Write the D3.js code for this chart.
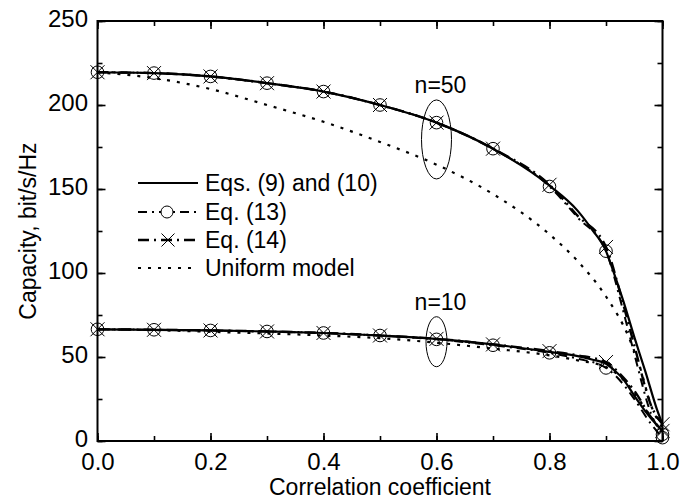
<!DOCTYPE html>
<html><head><meta charset="utf-8">
<script src="https://cdn.jsdelivr.net/npm/d3@7"></script>
<style>
html,body{margin:0;padding:0;background:#fff;}
svg text{font-family:"Liberation Sans",Arial,Helvetica,sans-serif;fill:#000;}
</style></head>
<body><svg id="c" width="681" height="504"></svg>
<script>
// ---------- data ----------
const xTicksMajor = [0, 0.2, 0.4, 0.6, 0.8, 1.0];
const yTicksMajor = [0, 50, 100, 150, 200, 250];

// Eqs. (9) and (10)  (solid)
const rhoSolid = [0,0.1,0.2,0.3,0.4,0.5,0.6,0.7,0.8,0.85,0.875,0.9,0.915,0.93,0.95,0.97,0.99,1.0];
const solid50  = [219.5,219,217,213,208,200,189.5,174,152,137,126,113,99,84,62,41,19,10];
const solid10  = [66.5,66.2,65.8,65.2,64.3,62.8,60.8,57.5,53,50.5,48.5,46,42,37,27,17.5,9.5,6];

// Uniform model (dotted)
const rhoUni = [0,0.1,0.2,0.3,0.4,0.5,0.6,0.7,0.8,0.85,0.9,0.94,0.96,0.98,1.0];
const uni50  = [219.5,216,209.5,200,190,178,164.5,147,123,107,86,62,44,21,8];
const uni10  = [66.5,66,65,64,62.8,61.2,58.5,55,51,48,44,33,24,14,6];

// Eq. (13) (circles) and Eq. (14) (crosses)
const rhoDash = [0,0.1,0.2,0.3,0.4,0.5,0.6,0.7,0.8,0.85,0.9,0.93,0.95,0.98,1.0];
const eq13_50 = [219.5,219,217,213,208,200,189.5,174,151.5,133,113,78,52,16,4];
const eq14_50 = [219.5,219,217,213,208,200,189.5,174,152.5,134,115.5,82,57,21,10];
const eq13_10 = [66.5,66.2,65.8,65.2,64.3,62.8,60.5,57,52.5,49,43.5,34,25,10,2];
const eq14_10 = [66.5,66.2,65.8,65.2,64.3,62.8,60.8,57.5,53.5,51,47,38,30,14,6];

const legendLabels = ["Eqs. (9) and (10)", "Eq. (13)", "Eq. (14)", "Uniform model"];
const groupLabels = ["n=50", "n=10"];

// ---------- chart ----------
const svg = d3.select("#c");
const L = 97.5, R = 662.5, T = 21, B = 441;
const x = d3.scaleLinear().domain([0, 1]).range([L, R]);
const y = d3.scaleLinear().domain([0, 250]).range([B, T]);
const FS = 23, TFS = 24;

const g = svg.append("g");

function styleAxis(sel, noText) {
  sel.select(".domain").remove();
  sel.selectAll("line").attr("stroke", "#000").attr("stroke-width", 1.6);
  sel.selectAll("text").style("font-size", TFS + "px").attr("fill", "#000");
  if (noText) sel.selectAll("text").remove();
}
const minorX = d3.range(0, 1.0001, 0.1);
const minorY = d3.range(0, 250.01, 25);
// bottom
g.append("g").attr("transform", `translate(0,${B})`)
  .call(d3.axisBottom(x).tickValues(minorX).tickSize(-5).tickFormat("")).call(s => styleAxis(s, true));
g.append("g").attr("transform", `translate(0,${B})`)
  .call(d3.axisBottom(x).tickValues(xTicksMajor).tickSizeInner(-8).tickSizeOuter(0).tickPadding(12).tickFormat(d3.format(".1f")))
  .call(s => styleAxis(s, false));
// top
g.append("g").attr("transform", `translate(0,${T})`)
  .call(d3.axisTop(x).tickValues(minorX).tickSize(-5).tickFormat("")).call(s => styleAxis(s, true));
g.append("g").attr("transform", `translate(0,${T})`)
  .call(d3.axisTop(x).tickValues(xTicksMajor).tickSize(-8).tickFormat("")).call(s => styleAxis(s, true));
// left
g.append("g").attr("transform", `translate(${L},0)`)
  .call(d3.axisLeft(y).tickValues(minorY).tickSize(-5).tickFormat("")).call(s => styleAxis(s, true));
g.append("g").attr("transform", `translate(${L},0)`)
  .call(d3.axisLeft(y).tickValues(yTicksMajor).tickSizeInner(-8).tickSizeOuter(0).tickPadding(9.5).tickFormat(d3.format("d")))
  .call(s => { styleAxis(s, false); s.selectAll("text").attr("dy", "0.24em"); });
// right
g.append("g").attr("transform", `translate(${R},0)`)
  .call(d3.axisRight(y).tickValues(minorY).tickSize(-5).tickFormat("")).call(s => styleAxis(s, true));
g.append("g").attr("transform", `translate(${R},0)`)
  .call(d3.axisRight(y).tickValues(yTicksMajor).tickSize(-8).tickFormat("")).call(s => styleAxis(s, true));

// frame
g.append("rect").attr("x", L).attr("y", T).attr("width", R - L).attr("height", B - T)
  .attr("fill", "none").attr("stroke", "#000").attr("stroke-width", 2);

// axis titles
svg.append("text").attr("x", (L + R) / 2).attr("y", 495).attr("text-anchor", "middle")
  .style("font-size", FS + "px").text("Correlation coefficient");
svg.append("text").attr("transform", `translate(36,${(T + B) / 2}) rotate(-90)`)
  .attr("text-anchor", "middle").style("font-size", FS + "px").text("Capacity, bit/s/Hz");

// lines
const line = d3.line().x(d => x(d[0])).y(d => y(d[1])).curve(d3.curveMonotoneX);
const zip = (a, b) => a.map((v, i) => [v, b[i]]);
const plot = g.append("g");
const styles = {
  solid: { w: 2.2, dash: null },
  eq13: { w: 2.0, dash: "9,5,2,5" },
  eq14: { w: 2.4, dash: "11,5,2,5" },
  uni: { w: 2.2, dash: "3,7" }
};
function drawLine(data, st) {
  plot.append("path").datum(data).attr("d", line).attr("fill", "none")
    .attr("stroke", "#000").attr("stroke-width", st.w)
    .attr("stroke-dasharray", st.dash);
}
drawLine(zip(rhoUni, uni50), styles.uni);
drawLine(zip(rhoUni, uni10), styles.uni);
drawLine(zip(rhoDash, eq13_50), styles.eq13);
drawLine(zip(rhoDash, eq13_10), styles.eq13);
drawLine(zip(rhoDash, eq14_50), styles.eq14);
drawLine(zip(rhoDash, eq14_10), styles.eq14);
drawLine(zip(rhoSolid, solid50), styles.solid);
drawLine(zip(rhoSolid, solid10), styles.solid);

// markers at multiples of 0.1
const isTenth = r => Math.abs(r * 10 - Math.round(r * 10)) < 1e-6;
function circles(data) {
  plot.selectAll(null).data(data.filter(d => isTenth(d[0]))).enter().append("circle")
    .attr("cx", d => x(d[0])).attr("cy", d => y(d[1])).attr("r", 6.3)
    .attr("fill", "none").attr("stroke", "#000").attr("stroke-width", 1);
}
function crosses(data) {
  const s = 7;
  plot.selectAll(null).data(data.filter(d => isTenth(d[0]))).enter().append("path")
    .attr("d", d => { const cx = x(d[0]), cy = y(d[1]);
      return `M${cx - s},${cy - s}L${cx + s},${cy + s}M${cx - s},${cy + s}L${cx + s},${cy - s}`; })
    .attr("fill", "none").attr("stroke", "#000").attr("stroke-width", 1);
}
circles(zip(rhoDash, eq13_50));
circles(zip(rhoDash, eq13_10));
crosses(zip(rhoDash, eq14_50));
crosses(zip(rhoDash, eq14_10));

// group annotations
const ann = [
  { label: groupLabels[0], rx: 0.6, cy: 179.5, ex: 15, ey: 39.5, ty: 93 },
  { label: groupLabels[1], rx: 0.6, cy: 59.1, ex: 10.5, ey: 25, ty: 310 }
];
ann.forEach(a => {
  g.append("ellipse").attr("cx", x(a.rx)).attr("cy", y(a.cy)).attr("rx", a.ex).attr("ry", a.ey)
    .attr("fill", "none").attr("stroke", "#000").attr("stroke-width", 1);
  g.append("text").attr("x", x(a.rx) + 4).attr("y", a.ty).attr("text-anchor", "middle")
    .style("font-size", FS + "px").text(a.label);
});

// legend
const leg = g.append("g");
const legStyles = [styles.solid, styles.eq13, styles.eq14, styles.uni];
const legY = [183, 212, 240, 268];
legendLabels.forEach((lab, i) => {
  const yy = legY[i];
  leg.append("line").attr("x1", 138).attr("x2", 198).attr("y1", yy).attr("y2", yy)
    .attr("stroke", "#000").attr("stroke-width", legStyles[i].w)
    .attr("stroke-dasharray", legStyles[i].dash);
  if (i === 1) leg.append("circle").attr("cx", 167).attr("cy", yy).attr("r", 6)
    .attr("fill", "#fff").attr("stroke", "#000").attr("stroke-width", 1);
  if (i === 2) { const s = 6.5, cx = 168;
    leg.append("path").attr("d", `M${cx - s},${yy - s}L${cx + s},${yy + s}M${cx - s},${yy + s}L${cx + s},${yy - s}`)
      .attr("stroke", "#000").attr("stroke-width", 1); }
  leg.append("text").attr("x", 205).attr("y", yy + 8).style("font-size", FS + "px").text(lab);
});
</script></body></html>
